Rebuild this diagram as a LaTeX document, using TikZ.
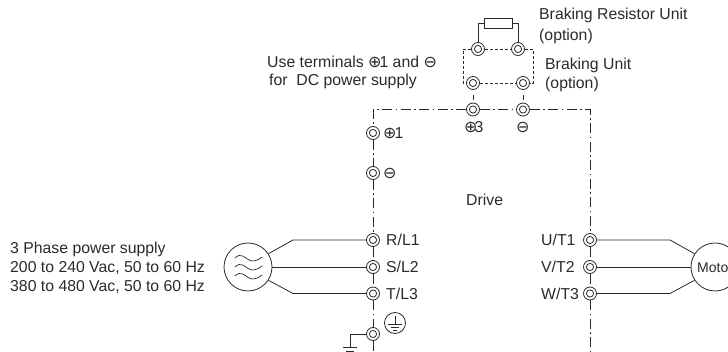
\documentclass[tikz,border=0pt]{standalone}
\usepackage{fontspec}
\setmainfont{Liberation Sans}
\newfontfamily\symfont{DejaVu Sans}
\newcommand{\cplus}{{\symfont\fontsize{16}{16}\selectfont ⊕}}
\newcommand{\cminus}{{\symfont\fontsize{16}{16}\selectfont ⊖}}
\definecolor{ink}{HTML}{2A2A2A}
\tikzset{
  term/.style={circle,draw=ink,fill=white,line width=0.8pt,minimum size=13pt,inner sep=0pt,
    path picture={\draw[ink,line width=0.8pt] (path picture bounding box.center) circle (3.6pt);}},
  lab/.style={anchor=west,inner sep=0pt,text=ink,font=\fontsize{15.8}{15.8}\selectfont},
  wire/.style={draw=ink,line width=0.8pt},
  chain/.style={draw=ink,line width=0.8pt,dash pattern=on 10pt off 3.5pt on 1.5pt off 3.5pt},
  dots/.style={draw=ink,line width=0.8pt,dash pattern=on 3pt off 2pt},
  gapdash/.style={draw=ink,line width=0.8pt,dash pattern=on 0pt off 5pt on 5pt off 10pt},
  big/.style={circle,draw=ink,fill=white,line width=0.8pt,minimum size=48pt,inner sep=0pt},
}
\begin{document}
\begin{tikzpicture}[x=1pt,y=-1pt]
\useasboundingbox (0,0) rectangle (728,352);
% terminals
\node[term] (rl) at (478,49) {};
\node[term] (rr) at (518,49) {};
\node[term] (bl) at (473,83) {};
\node[term] (br) at (523,83) {};
\node[term] (ml) at (473,109.5) {};
\node[term] (mr) at (523,109.5) {};
\node[term] (pone) at (373,133) {};
\node[term] (neg) at (373,173) {};
\node[term] (r) at (373,240) {};
\node[term] (s) at (373,267) {};
\node[term] (t) at (373,293.5) {};
\node[term] (g) at (373,334) {};
\node[term] (u) at (590,240) {};
\node[term] (v) at (590,267) {};
\node[term] (w) at (590,293.5) {};
% resistor
\node[draw=ink,line width=0.8pt,minimum width=28pt,minimum height=10pt,inner sep=0pt] (res) at (498,23) {};
\coordinate (rc1) at (478,23);
\coordinate (rc2) at (518,23);
\draw[wire] (rl) -- (rc1) -- (res.west);
\draw[wire] (rr) -- (rc2) -- (res.east);
% braking unit
\coordinate (d1) at (463,49);
\coordinate (d2) at (463,83);
\coordinate (d3) at (533,49);
\coordinate (d4) at (533,83);
\draw[dots] (rl) -- (rr);
\draw[dots] (rl) -- (d1) -- (d2) -- (bl);
\draw[dots] (rr) -- (d3) -- (d4) -- (br);
\draw[dots] (bl) -- (br);
\draw[gapdash] (bl) -- (ml);
\draw[gapdash] (br) -- (mr);
% drive outline
\coordinate (c1) at (373,109.5);
\coordinate (c2) at (590,109.5);
\coordinate (e1) at (373,352);
\coordinate (e2) at (590,352);
\draw[chain] (ml) -- (mr);
\draw[chain] (ml) -- (c1) -- (pone);
\draw[chain] (mr) -- (c2) -- (u);
\draw[chain] (pone) -- (neg);
\draw[chain] (neg) -- (r);
\draw[chain] (r) -- (s);
\draw[chain] (s) -- (t);
\draw[chain] (t) -- (g);
\draw[chain] (g) -- (e1);
\draw[chain] (u) -- (v);
\draw[chain] (v) -- (w);
\draw[chain] (w) -- (e2);
% source and motor
\node[big] (src) at (248,267) {};
\node[big] (mot) at (715,267) {};
\node[anchor=west,inner sep=0pt,text=ink,font=\fontsize{14}{14}\selectfont] (mtext) at (697,268) {Moto};
\draw[ink,line width=0.7pt] (235,258) .. controls (241,252) and (245,258) .. (249,260) .. controls (253,262) and (257,261) .. (262,257);
\draw[ink,line width=0.7pt] (235,267) .. controls (241,261) and (245,267) .. (249,269) .. controls (253,271) and (257,270) .. (262,266);
\draw[ink,line width=0.7pt] (235,276) .. controls (241,270) and (245,276) .. (249,278) .. controls (253,280) and (257,279) .. (262,275);
\coordinate (w1) at (293,240);
\coordinate (w3) at (293,293.5);
\coordinate (w4) at (670,240);
\coordinate (w6) at (670,293.5);
\draw[wire] (r) -- (w1) -- (src.33);
\draw[wire] (s) -- (src);
\draw[wire] (t) -- (w3) -- (src.-33);
\draw[wire] (u) -- (w4) -- (mot.147);
\draw[wire] (v) -- (mot);
\draw[wire] (w) -- (w6) -- (mot.213);
% earth
\coordinate (g1) at (350,334);
\coordinate (g2) at (350,347);
\coordinate (g3) at (343,347);
\coordinate (g4) at (357,347);
\coordinate (g5) at (346,351.5);
\coordinate (g6) at (354,351.5);
\draw[wire] (g) -- (g1) -- (g2);
\draw[wire] (g3) -- (g4);
\draw[wire] (g5) -- (g6);
\node[circle,draw=ink,line width=0.8pt,minimum size=21pt,inner sep=0pt] (pe) at (395,323) {};
\coordinate (pe1) at (395,316);
\coordinate (pe2) at (395,324);
\coordinate (pe3) at (388,324);
\coordinate (pe4) at (402,324);
\coordinate (pe5) at (391,327);
\coordinate (pe6) at (399,327);
\coordinate (pe7) at (393,330);
\coordinate (pe8) at (397,330);
\draw[ink,line width=0.7pt] (pe1) -- (pe2) (pe3) -- (pe4) (pe5) -- (pe6) (pe7) -- (pe8);
% labels
\node[lab] (l1) at (539,15) {Braking Resistor Unit};
\node[lab] (l2) at (539,36) {(option)};
\node[lab] (l3) at (545,65) {Braking Unit};
\node[lab] (l4) at (545,84) {(option)};
\node[lab] (l5) at (267,62) {Use terminals \cplus\kern-2pt 1 and \cminus};
\node[lab] (l6) at (269,81) {for\ \ DC power supply};
\node[lab] (l7) at (464,127) {\cplus\kern-3pt 3};
\node[lab] (l8) at (516,127) {\cminus};
\node[lab] (l9) at (383,133) {\cplus\kern-2pt 1};
\node[lab] (l10) at (383,173) {\cminus};
\node[lab] (drive) at (466,200) {Drive};
\node[lab] (lr) at (386,240) {R/L1};
\node[lab] (ls) at (386,267) {S/L2};
\node[lab] (lt) at (386,293.5) {T/L3};
\node[lab] (lu) at (541,240) {U/T1};
\node[lab] (lv) at (541,267) {V/T2};
\node[lab] (lw) at (541,293.5) {W/T3};
\node[lab] (p1) at (10,249) {3 Phase power supply};
\node[lab] (p2) at (10,268) {200 to 240 Vac, 50 to 60 Hz};
\node[lab] (p3) at (10,287) {380 to 480 Vac, 50 to 60 Hz};
\end{tikzpicture}
\end{document}
